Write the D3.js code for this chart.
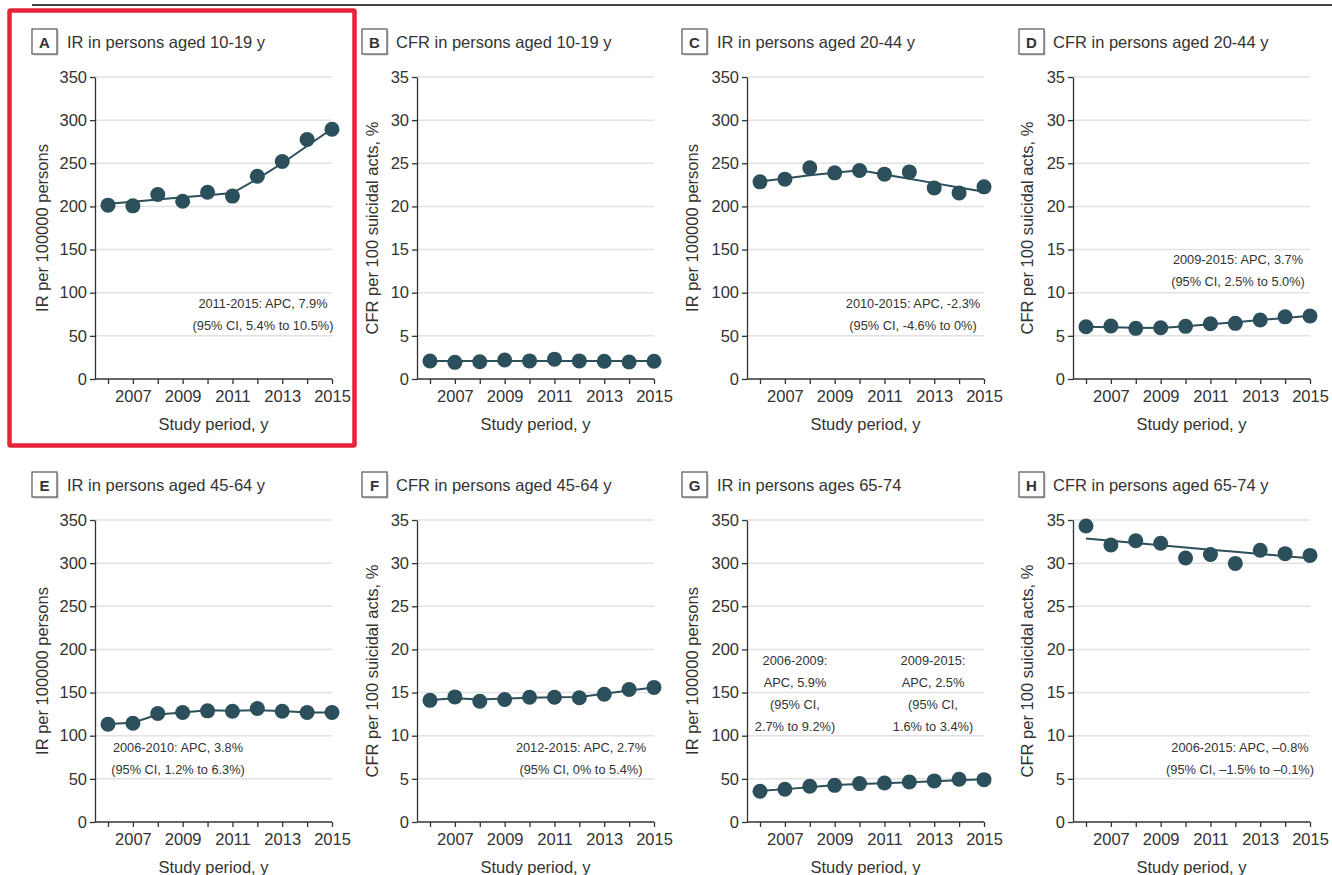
<!DOCTYPE html>
<html>
<head>
<meta charset="utf-8">
<script src="https://cdn.jsdelivr.net/npm/d3@7"></script>
<style>
  body { margin: 0; background: #fff; }
  svg text { font-family: "Liberation Sans", Arial, sans-serif; fill: #333; }
</style>
</head>
<body>
<svg id="chart" width="1332" height="875"></svg>
<script>
// study years (x categories)
const years = [2006, 2007, 2008, 2009, 2010, 2011, 2012, 2013, 2014, 2015];

const irAge1019 = [201.5, 200.7, 213.8, 206, 216.5, 212, 235, 252, 277.5, 289.5];
const irAge1019Fit = [203, 205.5, 208, 210.5, 213, 215.5, 232, 250, 270, 290];
const cfrAge1019 = [2.08, 1.93, 2.0, 2.2, 2.1, 2.3, 2.1, 2.05, 1.97, 2.05];
const cfrAge1019Fit = [2.1, 2.1, 2.1, 2.1, 2.1, 2.1, 2.1, 2.1, 2.1, 2.1];
const irAge2044 = [228.5, 231.6, 244.7, 238.9, 241.6, 237.4, 240, 221.5, 215.7, 222.7];
const irAge2044Fit = [229, 232.5, 236, 239, 242, 237, 232, 227, 222, 217];
const cfrAge2044 = [6.06, 6.14, 5.87, 5.94, 6.1, 6.4, 6.45, 6.83, 7.2, 7.3];
const cfrAge2044Fit = [6.05, 6.0, 5.95, 5.9, 6.12, 6.35, 6.58, 6.83, 7.08, 7.34];
const irAge4564 = [113.3, 114.5, 125.7, 126.9, 128.8, 128.4, 131.5, 128.4, 126.9, 126.9];
const irAge4564Fit = [113.5, 115, 124.5, 127, 129.5, 129, 129.5, 128.5, 127, 127];
const cfrAge4564 = [14.1, 14.5, 14.0, 14.2, 14.46, 14.46, 14.4, 14.8, 15.35, 15.6];
const cfrAge4564Fit = [14.15, 14.35, 14.2, 14.3, 14.4, 14.45, 14.5, 14.85, 15.25, 15.6];
const irAge6574 = [35.6, 37.9, 41.4, 42.5, 44.5, 45.2, 46.4, 47.6, 49.5, 49.1];
const irAge6574Fit = [36, 38.1, 40.4, 42.8, 43.9, 45, 46.1, 47.2, 48.4, 49.6];
const cfrAge6574 = [34.3, 32.1, 32.6, 32.3, 30.6, 31.0, 29.97, 31.5, 31.1, 30.9];
const cfrAge6574Fit = [32.85, 32.59, 32.33, 32.07, 31.81, 31.56, 31.31, 31.06, 30.81, 30.56];

// axis ticks
const irTicks = [0, 50, 100, 150, 200, 250, 300, 350];
const cfrTicks = [0, 5, 10, 15, 20, 25, 30, 35];
const xLabelYears = [2007, 2009, 2011, 2013, 2015];

const irLabel = "IR per 100000 persons";
const cfrLabel = "CFR per 100 suicidal acts, %";

const panels = [
  { letter: "A", title: "IR in persons aged 10-19 y", obs: irAge1019, fit: irAge1019Fit, kind: "ir", col: 0, row: 0,
    notes: [{ x: 263, y: 303, lines: ["2011-2015: APC, 7.9%", "(95% CI, 5.4% to 10.5%)"] }] },
  { letter: "B", title: "CFR in persons aged 10-19 y", obs: cfrAge1019, fit: cfrAge1019Fit, kind: "cfr", col: 1, row: 0, notes: [] },
  { letter: "C", title: "IR in persons aged 20-44 y", obs: irAge2044, fit: irAge2044Fit, kind: "ir", col: 2, row: 0,
    notes: [{ x: 913, y: 303, lines: ["2010-2015: APC, -2.3%", "(95% CI, -4.6% to 0%)"] }] },
  { letter: "D", title: "CFR in persons aged 20-44 y", obs: cfrAge2044, fit: cfrAge2044Fit, kind: "cfr", col: 3, row: 0,
    notes: [{ x: 1238, y: 259, lines: ["2009-2015: APC, 3.7%", "(95% CI, 2.5% to 5.0%)"] }] },
  { letter: "E", title: "IR in persons aged 45-64 y", obs: irAge4564, fit: irAge4564Fit, kind: "ir", col: 0, row: 1,
    notes: [{ x: 178, y: 747, lines: ["2006-2010: APC, 3.8%", "(95% CI, 1.2% to 6.3%)"] }] },
  { letter: "F", title: "CFR in persons aged 45-64 y", obs: cfrAge4564, fit: cfrAge4564Fit, kind: "cfr", col: 1, row: 1,
    notes: [{ x: 581, y: 747, lines: ["2012-2015: APC, 2.7%", "(95% CI, 0% to 5.4%)"] }] },
  { letter: "G", title: "IR in persons ages 65-74", obs: irAge6574, fit: irAge6574Fit, kind: "ir", col: 2, row: 1,
    notes: [{ x: 795, y: 660, lines: ["2006-2009:", "APC, 5.9%", "(95% CI,", "2.7% to 9.2%)"] },
            { x: 933, y: 660, lines: ["2009-2015:", "APC, 2.5%", "(95% CI,", "1.6% to 3.4%)"] }] },
  { letter: "H", title: "CFR in persons aged 65-74 y", obs: cfrAge6574, fit: cfrAge6574Fit, kind: "cfr", col: 3, row: 1,
    notes: [{ x: 1240, y: 747, lines: ["2006-2015: APC, \u20130.8%", "(95% CI, \u20131.5% to \u20130.1%)"] }] }
];

// layout
const axisX = [95, 417, 747, 1073];
const boxX = [32, 362, 682, 1019];
const titleX = [67, 396, 717, 1053];
const yLabelX = [42, 372, 692, 1027];
const rowTop = [77, 520];
const plotH = 302;
const titleY = [42, 485];
const dotColor = "#2b4f5b";

const svg = d3.select("#chart");
svg.append("rect").attr("width", 1332).attr("height", 875).attr("fill", "#fff");

// top rule
svg.append("line").attr("x1", 32).attr("x2", 1332).attr("y1", 5).attr("y2", 5)
   .attr("stroke", "#444").attr("stroke-width", 2);

panels.forEach(p => {
  const ax = axisX[p.col];
  const top = rowTop[p.row];
  const bottom = top + plotH;
  const ticks = p.kind === "ir" ? irTicks : cfrTicks;

  const x = d3.scaleLinear().domain([2006, 2015]).range([ax + 13, ax + 237]);
  const y = d3.scaleLinear().domain([0, d3.max(ticks)]).range([bottom, top]);
  const g = svg.append("g");

  // gridlines
  g.append("g").selectAll("line")
    .data(ticks.filter(t => t > 0))
    .join("line")
    .attr("x1", ax).attr("x2", x(2015))
    .attr("y1", d => y(d)).attr("y2", d => y(d))
    .attr("stroke", "#e2e2e2").attr("stroke-width", 1.5);

  // y axis
  g.append("g")
    .attr("transform", `translate(${ax},0)`)
    .call(d3.axisLeft(y).tickValues(ticks).tickSize(5).tickSizeOuter(0).tickPadding(3))
    .call(a => a.selectAll("path, line").attr("stroke", "#333").attr("stroke-width", 1.3))
    .call(a => a.selectAll("text").attr("font-size", 16.5).attr("fill", "#333")
                 .style("font-family", "'Liberation Sans', Arial, sans-serif"));

  // x axis
  g.append("line").attr("x1", ax).attr("x2", x(2015)).attr("y1", bottom).attr("y2", bottom)
    .attr("stroke", "#333").attr("stroke-width", 1.3);
  g.append("g")
    .attr("transform", `translate(0,${bottom})`)
    .call(d3.axisBottom(x).tickValues(years).tickSize(5).tickSizeOuter(0).tickPadding(6)
            .tickFormat(d => xLabelYears.includes(d) ? String(d) : ""))
    .call(a => a.select(".domain").remove())
    .call(a => a.selectAll("line").attr("stroke", "#333").attr("stroke-width", 1.3))
    .call(a => a.selectAll("text").attr("font-size", 16.5).attr("fill", "#333")
                 .style("font-family", "'Liberation Sans', Arial, sans-serif"));

  // axis titles
  g.append("text")
    .attr("transform", `translate(${yLabelX[p.col]},${(top + bottom) / 2}) rotate(-90)`)
    .attr("text-anchor", "middle").attr("dominant-baseline", "central")
    .attr("font-size", 16.5)
    .text(p.kind === "ir" ? irLabel : cfrLabel);
  g.append("text")
    .attr("x", (ax + x(2015)) / 2).attr("y", bottom + 51)
    .attr("text-anchor", "middle").attr("font-size", 16.5)
    .text("Study period, y");

  // panel letter box and title
  const by = titleY[p.row] - 13;
  g.append("rect").attr("x", boxX[p.col] + 1.5).attr("y", by + 1.5).attr("width", 25).attr("height", 25)
    .attr("fill", "#c8c8c8");
  g.append("rect").attr("x", boxX[p.col]).attr("y", by).attr("width", 25).attr("height", 25)
    .attr("fill", "#fff").attr("stroke", "#555").attr("stroke-width", 1.2);
  g.append("text").attr("x", boxX[p.col] + 12.5).attr("y", titleY[p.row])
    .attr("text-anchor", "middle").attr("dominant-baseline", "central")
    .attr("font-size", 15).attr("font-weight", "bold").text(p.letter);
  g.append("text").attr("x", titleX[p.col]).attr("y", titleY[p.row])
    .attr("dominant-baseline", "central").attr("font-size", 16.5).text(p.title);

  // fitted trend line
  g.append("path")
    .datum(years.map((yr, i) => [yr, p.fit[i]]))
    .attr("d", d3.line().x(d => x(d[0])).y(d => y(d[1])))
    .attr("fill", "none").attr("stroke", dotColor).attr("stroke-width", 2);

  // observed points
  g.append("g").selectAll("circle")
    .data(years.map((yr, i) => [yr, p.obs[i]]))
    .join("circle")
    .attr("cx", d => x(d[0])).attr("cy", d => y(d[1])).attr("r", 7.5)
    .attr("fill", dotColor);

  // APC annotations
  p.notes.forEach(n => {
    g.append("text")
      .attr("text-anchor", "middle").attr("font-size", 12.8).attr("fill", "#333")
      .selectAll("tspan")
      .data(n.lines)
      .join("tspan")
      .attr("x", n.x)
      .attr("y", (d, i) => n.y + i * 22)
      .attr("dominant-baseline", "central")
      .text(d => d);
  });
});

// highlight frame around panel A
svg.append("rect").attr("x", 9.5).attr("y", 10.5).attr("width", 345).attr("height", 435)
   .attr("fill", "none").attr("stroke", "#e8223a").attr("stroke-width", 4.5).attr("rx", 1);
</script>
</body>
</html>
